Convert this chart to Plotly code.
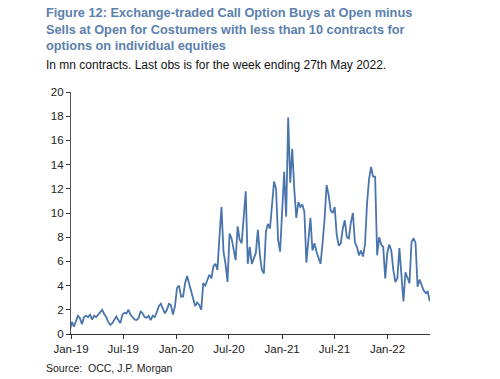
import pandas as pd
import plotly.graph_objects as go

# Weekly values (mn contracts), week ending Fridays, last obs 27 May 2022
values = [
    0.3, 1.0, 0.6, 1.1, 1.5, 1.3, 0.8, 1.4, 1.5, 1.4,
    1.6, 1.2, 1.5, 1.4, 1.6, 1.8, 2.0, 1.65, 1.4, 1.0,
    0.75, 0.9, 1.2, 1.45, 1.15, 0.9, 1.6, 1.75, 1.7, 2.0,
    1.6, 1.4, 1.2, 1.15, 1.3, 1.9, 1.7, 1.4, 1.35, 1.5,
    1.15, 1.5, 1.4, 1.8, 2.3, 2.5, 2.1, 1.7, 2.0, 2.5,
    2.4, 1.6, 2.3, 3.8, 4.0, 3.1, 3.1, 4.2, 4.8, 4.2,
    3.5, 2.8, 2.3, 2.6, 2.4, 2.0, 4.2, 4.0, 4.5, 4.9,
    4.6, 5.6, 5.8, 5.3, 8.0, 10.5, 6.8, 5.8, 4.3, 8.3,
    7.9, 7.0, 6.1, 8.9, 7.8, 7.5, 9.5, 11.8, 5.8, 7.2,
    5.8, 6.2, 6.7, 8.6, 6.5, 5.3, 5.0, 8.5, 9.1, 8.7,
    11.0, 12.6, 12.0, 7.8, 6.8, 10.2, 13.4, 9.7, 17.9, 12.5,
    15.3, 12.0, 9.6, 10.9, 10.5, 10.7, 10.1, 5.9, 7.6, 9.6,
    6.9, 7.5, 6.8, 6.3, 5.8, 7.5, 9.5, 12.3, 11.5, 10.2,
    10.0, 10.5, 8.2, 7.3, 7.5, 8.7, 9.4, 8.0, 7.9, 9.2,
    10.0, 7.6, 7.2, 6.5, 6.9, 6.4, 7.4, 10.8, 12.8, 13.8,
    13.0, 13.0, 6.5, 8.0, 7.4, 7.2, 4.6, 6.7, 7.4, 6.9,
    5.3, 4.3, 4.6, 7.1, 5.0, 2.7, 5.1, 4.6, 4.2, 7.6,
    7.9, 7.5, 3.9, 4.5, 4.0, 3.6, 3.4, 3.5, 2.7,
]
dates = pd.date_range(end="2022-05-27", periods=len(values), freq="W-FRI")

title_text = ("<b>Figure 12: Exchange-traded Call Option Buys at Open minus<br>"
              "Sells at Open for Costumers with less than 10 contracts for<br>"
              "options on individual equities</b>")
subtitle_text = "In mn contracts. Last obs is for the week ending 27th May 2022."
source_text = "Source:  OCC, J.P. Morgan"

FONT = "Liberation Sans, Arial, sans-serif"

# plot area in pixels
L, R, T, B = 71, 430, 92, 334
W, H = 500, 379
PW, PH = R - L, B - T

def px_x(x):
    return (x - L) / PW

def px_y(y):
    return (B - y) / PH

fig = go.Figure()
fig.add_trace(go.Scatter(
    x=dates, y=values, mode="lines",
    line=dict(color="#4a74ad", width=1.8),
    showlegend=False, hoverinfo="skip",
))

fig.update_layout(
    width=W, height=H,
    margin=dict(l=L, r=W - R, t=T, b=H - B),
    paper_bgcolor="white", plot_bgcolor="white",
    font=dict(family=FONT, size=11, color="#222"),
    annotations=[
        dict(text=title_text, xref="paper", yref="paper",
             x=px_x(44), y=px_y(3), xanchor="left", yanchor="top", align="left",
             showarrow=False, font=dict(family=FONT, size=12.75, color="#5b80ad")),
        dict(text=subtitle_text, xref="paper", yref="paper",
             x=px_x(44), y=px_y(56), xanchor="left", yanchor="top", align="left",
             showarrow=False, font=dict(family=FONT, size=12, color="#111")),
        dict(text=source_text, xref="paper", yref="paper",
             x=px_x(44), y=px_y(360), xanchor="left", yanchor="top", align="left",
             showarrow=False, font=dict(family=FONT, size=10.5, color="#222")),
    ],
)
fig.update_xaxes(
    range=["2019-01-01", "2022-05-28"],
    tickformat="%b-%y", dtick="M6", tick0="2019-01-01",
    ticks="outside", ticklen=4, tickcolor="#333",
    showline=True, linecolor="#333", linewidth=1.2,
    showgrid=False, zeroline=False,
    tickfont=dict(family=FONT, size=11.5, color="#222"),
)
fig.update_yaxes(
    range=[0, 20], dtick=2,
    ticks="outside", ticklen=4, tickcolor="#333",
    showline=True, linecolor="#555", linewidth=1.2,
    showgrid=False, zeroline=False,
    tickfont=dict(family=FONT, size=11.5, color="#222"),
)

fig.write_html(
    "out.html",
    config={"displayModeBar": False},
    post_script="document.body.style.margin='0';document.body.style.padding='0';",
)
